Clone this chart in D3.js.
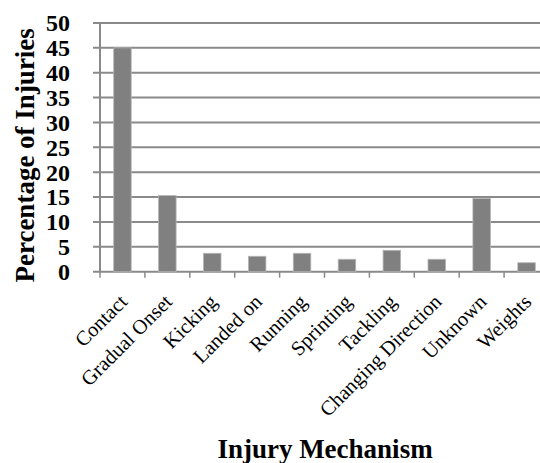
<!DOCTYPE html>
<html>
<head>
<meta charset="utf-8">
<script src="https://cdn.jsdelivr.net/npm/d3@7"></script>
<style>
  body { margin: 0; background: #fff; }
  svg { display: block; }
  text { font-family: "Liberation Serif", "Times New Roman", serif; fill: #000; }
</style>
</head>
<body>
<svg id="chart" width="540" height="463"></svg>
<script>
// categorias e valores
var categories = ["Contact", "Gradual Onset", "Kicking", "Landed on", "Running",
  "Sprinting", "Tackling", "Changing Direction", "Unknown", "Weights"];
var values = [45.0, 15.3, 3.7, 3.1, 3.7, 2.5, 4.3, 2.5, 14.7, 1.8];
var yTicks = [0, 5, 10, 15, 20, 25, 30, 35, 40, 45, 50];

var svg = d3.select("#chart");
var mLeft = 100, mRight = 549, mTop = 23, mBottom = 271.7;
var grey = "#8a8a8a";

// escala das categorias (barras centradas em cada faixa)
var x = d3.scaleBand().domain(categories).range([mLeft, mRight])
  .paddingInner(0.61).paddingOuter(0.305);
var y = d3.scaleLinear().domain([0, 50]).range([mBottom, mTop]);
var step = x.step();

// linhas de grade
svg.append("g").selectAll("line")
  .data(yTicks)
  .enter()
  .append("line")
  .attr("x1", mLeft - 7)
  .attr("x2", mRight)
  .attr("y1", function (d) { return y(d); })
  .attr("y2", function (d) { return y(d); })
  .attr("stroke", grey)
  .attr("stroke-width", 2);

// eixo vertical
svg.append("line")
  .attr("x1", mLeft).attr("x2", mLeft)
  .attr("y1", mTop).attr("y2", mBottom)
  .attr("stroke", grey).attr("stroke-width", 2);

// marcas do eixo x nas divisões das categorias
svg.append("g").selectAll("line")
  .data(d3.range(categories.length + 1))
  .enter()
  .append("line")
  .attr("x1", function (d) { return mLeft + d * step; })
  .attr("x2", function (d) { return mLeft + d * step; })
  .attr("y1", mBottom)
  .attr("y2", mBottom + 6)
  .attr("stroke", grey)
  .attr("stroke-width", 1.5);

// barras
svg.append("g").selectAll("rect")
  .data(values)
  .enter()
  .append("rect")
  .attr("x", function (d, i) { return x(categories[i]); })
  .attr("y", function (d) { return y(d); })
  .attr("width", x.bandwidth())
  .attr("height", function (d) { return mBottom - y(d); })
  .attr("fill", "#808080")
  .attr("stroke", "#b5b5b5")
  .attr("stroke-width", 0.8);

// rótulos do eixo y
svg.append("g").selectAll("text")
  .data(yTicks)
  .enter()
  .append("text")
  .attr("x", 70)
  .attr("y", function (d) { return y(d); })
  .attr("dy", "0.35em")
  .attr("text-anchor", "end")
  .style("font-size", "24px")
  .style("font-weight", "bold")
  .text(function (d) { return d; });

// rótulos do eixo x, inclinados
svg.append("g").selectAll("text")
  .data(categories)
  .enter()
  .append("text")
  .attr("transform", function (d) {
    return "translate(" + (x(d) + x.bandwidth() / 2 + 6) + "," + 303 + ") rotate(-45)";
  })
  .attr("text-anchor", "end")
  .style("font-size", "20.5px")
  .text(function (d) { return d; });

// títulos dos eixos
svg.append("text")
  .attr("transform", "translate(34," + ((mTop + mBottom) / 2 + 8) + ") rotate(-90)")
  .attr("text-anchor", "middle")
  .style("font-size", "27px")
  .style("font-weight", "bold")
  .text("Percentage of Injuries");

svg.append("text")
  .attr("x", 325)
  .attr("y", 458)
  .attr("text-anchor", "middle")
  .style("font-size", "27px")
  .style("font-weight", "bold")
  .text("Injury Mechanism");
</script>
</body>
</html>
